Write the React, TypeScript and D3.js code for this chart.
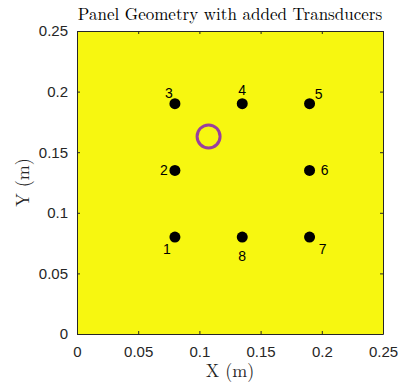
import React, { useEffect, useRef } from 'react';
import * as d3 from 'd3';

// transducer positions (m)
const sensorX = [0.08, 0.08, 0.08, 0.135, 0.19, 0.19, 0.19, 0.135];
const sensorY = [0.08, 0.135, 0.19, 0.19, 0.19, 0.135, 0.08, 0.08];
const sensorLabels = ['1', '2', '3', '4', '5', '6', '7', '8'];
// label offsets in px, as placed in the original figure
const labelDx = [-8, -11, -6, 0, 9, 15, 13, 0];
const labelDy = [12, 0, -11, -14, -10, 0, 12, 19];

// added transducer
const addedX = [0.1075];
const addedY = [0.163];

const xTicks = [0, 0.05, 0.1, 0.15, 0.2, 0.25];
const yTicks = [0, 0.05, 0.1, 0.15, 0.2, 0.25];

const App = () => {
  const svgRef = useRef(null);

  useEffect(() => {
    const svg = d3.select(svgRef.current);
    svg.selectAll('*').remove();

    const margin = { top: 31, right: 20, bottom: 51, left: 77 };
    const width = 403 - margin.left - margin.right;
    const height = 385 - margin.top - margin.bottom;
    const g = svg.append('g').attr('transform', `translate(${margin.left},${margin.top})`);

    const x = d3.scaleLinear().domain([0, 0.25]).range([0, width]);
    const y = d3.scaleLinear().domain([0, 0.25]).range([height, 0]);

    // panel
    g.append('rect')
      .attr('x', x(0))
      .attr('y', y(0.25))
      .attr('width', x(0.25) - x(0))
      .attr('height', y(0) - y(0.25))
      .attr('fill', '#f7f710');

    const tickFont = "'Liberation Sans', Arial, sans-serif";
    const axisColor = '#262626';
    const fmt = d => (d === 0 ? '0' : String(+d.toFixed(3)));

    const styleAxis = sel => {
      sel.select('.domain').attr('stroke', axisColor);
      sel.selectAll('.tick line').attr('stroke', axisColor);
      sel.selectAll('.tick text')
        .attr('fill', axisColor)
        .attr('font-family', tickFont)
        .attr('font-size', 15);
    };

    g.append('g')
      .attr('transform', `translate(0,${height})`)
      .call(d3.axisBottom(x).tickValues(xTicks).tickSize(-3).tickSizeOuter(0).tickPadding(10).tickFormat(fmt))
      .call(styleAxis)
      .call(s => s.selectAll('.tick text').attr('dy', '0.85em'));

    g.append('g')
      .call(d3.axisLeft(y).tickValues(yTicks).tickSize(-3).tickSizeOuter(0).tickPadding(9).tickFormat(fmt))
      .call(styleAxis);

    g.append('g')
      .call(d3.axisTop(x).tickValues(xTicks).tickSize(-3).tickSizeOuter(0).tickFormat(() => ''))
      .call(styleAxis);

    g.append('g')
      .attr('transform', `translate(${width},0)`)
      .call(d3.axisRight(y).tickValues(yTicks).tickSize(-3).tickSizeOuter(0).tickFormat(() => ''))
      .call(styleAxis);

    // sensors
    const idx = d3.range(sensorX.length);
    g.selectAll('circle.sensor')
      .data(idx)
      .enter().append('circle')
      .attr('class', 'sensor')
      .attr('cx', i => x(sensorX[i]))
      .attr('cy', i => y(sensorY[i]))
      .attr('r', 5.5)
      .attr('fill', '#000');

    g.selectAll('text.lbl')
      .data(idx)
      .enter().append('text')
      .attr('class', 'lbl')
      .attr('x', i => x(sensorX[i]) + labelDx[i])
      .attr('y', i => y(sensorY[i]) + labelDy[i])
      .attr('dy', '0.35em')
      .attr('text-anchor', 'middle')
      .attr('font-family', tickFont)
      .attr('font-size', 14)
      .attr('fill', '#000')
      .text(i => sensorLabels[i]);

    // added transducer
    g.selectAll('circle.added')
      .data(addedX.map((d, i) => [d, addedY[i]]))
      .enter().append('circle')
      .attr('class', 'added')
      .attr('cx', d => x(d[0]))
      .attr('cy', d => y(d[1]))
      .attr('r', 11.5)
      .attr('fill', 'none')
      .attr('stroke', '#9a3f9d')
      .attr('stroke-width', 3);

    const serif = "'Latin Modern Roman', 'DejaVu Serif', serif";

    svg.append('text')
      .attr('x', margin.left + width / 2)
      .attr('y', 20)
      .attr('text-anchor', 'middle')
      .attr('font-family', serif)
      .attr('font-size', 17)
      .attr('fill', '#000')
      .text('Panel Geometry with added Transducers');

    svg.append('text')
      .attr('x', margin.left + width / 2)
      .attr('y', 377)
      .attr('text-anchor', 'middle')
      .attr('font-family', serif)
      .attr('font-size', 18)
      .attr('fill', axisColor)
      .text('X (m)');

    svg.append('text')
      .attr('transform', `translate(29,${margin.top + height / 2}) rotate(-90)`)
      .attr('text-anchor', 'middle')
      .attr('font-family', serif)
      .attr('font-size', 18)
      .attr('fill', axisColor)
      .text('Y (m)');
  }, []);

  return (
    <svg ref={svgRef} width="403" height="385" style={{ position: 'absolute', left: 0, top: 0 }}></svg>
  );
};

export default App;
